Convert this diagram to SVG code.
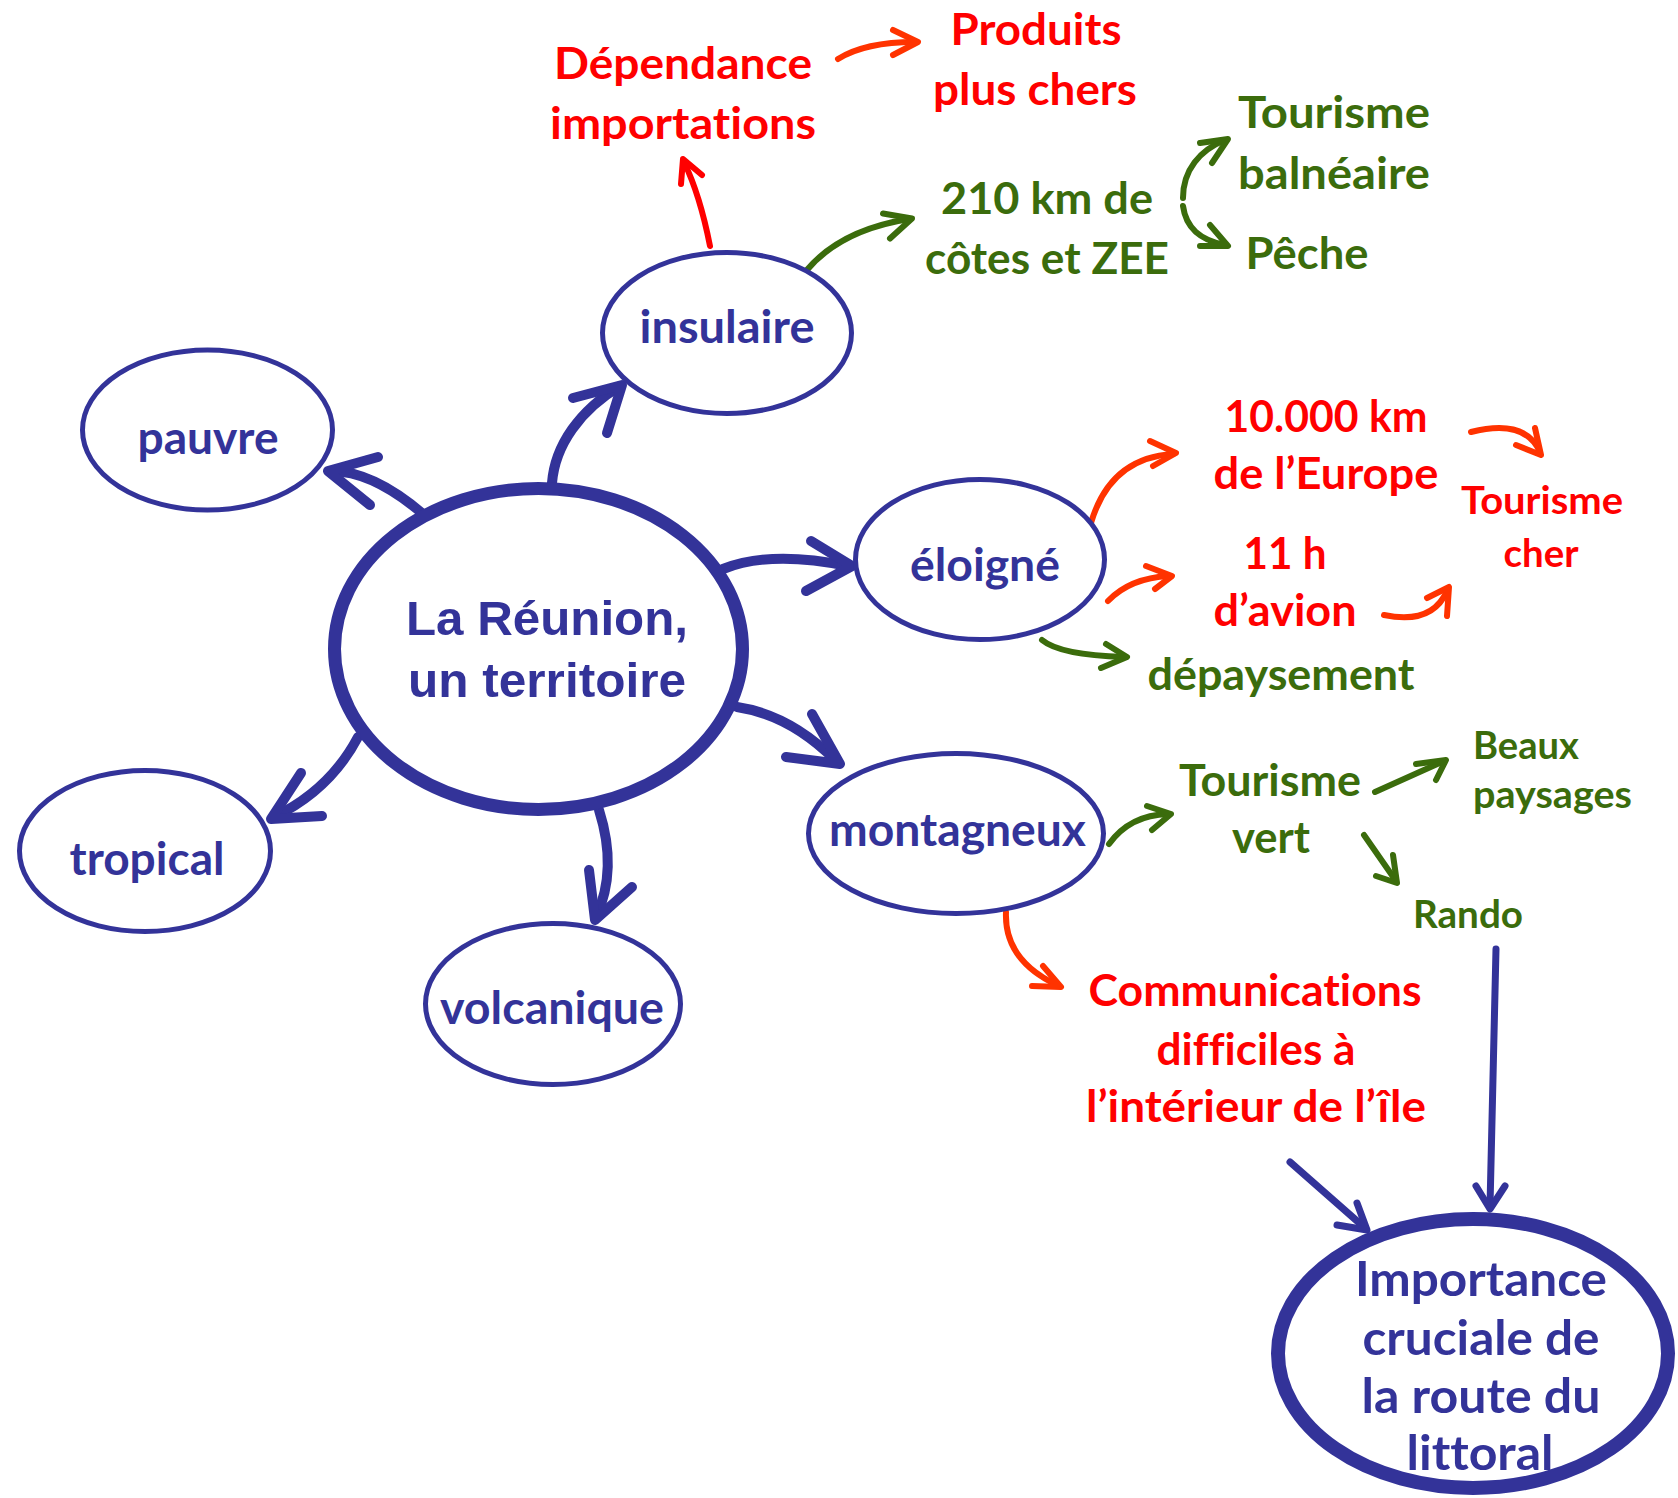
<svg xmlns="http://www.w3.org/2000/svg" width="1678" height="1498" viewBox="0 0 1678 1498">
<style>
.bg{fill:#ffffff}
.node{fill:#ffffff;stroke:#333399;stroke-width:5}
.t{font-family:Lato,"Open Sans","Liberation Sans",sans-serif;font-weight:700;text-anchor:middle;font-variant-ligatures:none;font-feature-settings:"liga" 0,"clig" 0}
.tl{text-anchor:start}
.ts{font-size:39px}
.tm{font-size:44px}
.tn{font-size:46px}
.tb{font-size:48px}
.tc{font-family:"Liberation Sans",Arial,sans-serif;font-weight:700;font-size:49px;text-anchor:middle;fill:#333399}
.blue{fill:#333399}
.red{fill:#ff0000}
.green{fill:#3b6c0c}
.c{fill:none;stroke-linecap:round;stroke-linejoin:round}
.cb{stroke:#333399;stroke-width:10}
.cb2{stroke:#333399;stroke-width:7}
.cg{stroke:#3b6c0c;stroke-width:6}
.cr{stroke:#ff0000;stroke-width:6}
.co{stroke:#ff3300;stroke-width:6}
</style>
<rect class="bg" x="0" y="0" width="1678" height="1498"/>

<g id="connectors">
  <!-- central to nodes -->
  <path class="c cb" d="M 423 514 Q 373.5 471.5 332 471"/>
  <polyline class="c cb" points="378,457 328,471 370,505"/>
  <path class="c cb" d="M 552 483 C 555 445 580 410 620 386"/>
  <polyline class="c cb" points="573,398 622,385 607,433"/>
  <path class="c cb" d="M 723 569 Q 770 550 848 566"/>
  <polyline class="c cb" points="811,541 852,566 806,591"/>
  <path class="c cb" d="M 737 707 Q 790 715 835 760"/>
  <polyline class="c cb" points="812,714 840,764 786,757"/>
  <path class="c cb" d="M 358 737 Q 330 790 274 817"/>
  <polyline class="c cb" points="301,773 271,819 322,816"/>
  <path class="c cb" d="M 599 810 Q 618 870 596 917"/>
  <polyline class="c cb" points="589,870 595,920 632,887"/>
  <!-- to Importance -->
  <path class="c cb2" d="M 1290 1162 L 1365 1228"/>
  <polyline class="c cb2" points="1357,1203 1367,1230 1337,1225"/>
  <path class="c cb2" d="M 1496 949 L 1490 1206"/>
  <polyline class="c cb2" points="1476,1186 1490,1209 1505,1186"/>
  <!-- green -->
  <path class="c cg" d="M 806 271 Q 840 230 909 219"/>
  <polyline class="c cg" points="883,213.5 912,218.5 890,238.5"/>
  <path class="c cg" d="M 1183 198 C 1183 170 1200 150 1225 140"/>
  <polyline class="c cg" points="1200,143 1228,139 1212,163"/>
  <path class="c cg" d="M 1183 206 C 1186 228 1200 240 1225 245"/>
  <polyline class="c cg" points="1210,225 1228,246 1200,246"/>
  <path class="c cg" d="M 1042 640 Q 1060 655 1124 657"/>
  <polyline class="c cg" points="1106,644 1127,657 1101,668"/>
  <path class="c cg" d="M 1109 844 Q 1130 815 1168 814"/>
  <polyline class="c cg" points="1147,806 1171,814 1152,830"/>
  <path class="c cg" d="M 1375 792 L 1444 761"/>
  <polyline class="c cg" points="1416,764 1446,760 1436,780"/>
  <path class="c cg" d="M 1364 835 L 1396 881"/>
  <polyline class="c cg" points="1393,855 1397,883 1376,876"/>
  <!-- red / orange -->
  <path class="c cr" d="M 710 246 Q 700 195 684 162"/>
  <polyline class="c cr" points="681,184 683,159 702,175"/>
  <path class="c co" d="M 838 59 Q 865 42 915 42"/>
  <polyline class="c co" points="893,30 918,42 893,55"/>
  <path class="c co" d="M 1091 523 Q 1110 458 1173 454"/>
  <polyline class="c co" points="1150,441 1176,453 1153,466"/>
  <path class="c co" d="M 1471 432 Q 1525 418 1540 452"/>
  <polyline class="c co" points="1535,428 1541,455 1516,445"/>
  <path class="c co" d="M 1108 601 Q 1130 578 1169 576"/>
  <polyline class="c co" points="1146,566 1172,576 1155,589"/>
  <path class="c co" d="M 1384 615 Q 1432 625 1447 591"/>
  <polyline class="c co" points="1427,598 1449,587 1447,616"/>
  <path class="c co" d="M 1006 912 Q 1004 960 1057 985"/>
  <polyline class="c co" points="1043,966 1061,987 1032,986"/>
</g>

<g id="central">
  <ellipse cx="538.5" cy="649" rx="204" ry="160.5" fill="#ffffff" stroke="#333399" stroke-width="13"/>
  <text class="tc" x="547" y="635" textLength="282" lengthAdjust="spacingAndGlyphs">La Réunion,</text>
  <text class="tc" x="547" y="697" textLength="278" lengthAdjust="spacingAndGlyphs">un territoire</text>
</g>

<g id="pauvre">
  <ellipse class="node" cx="207.5" cy="430" rx="125" ry="80"/>
  <text class="t tn blue" x="208" y="453.5" textLength="141" lengthAdjust="spacingAndGlyphs">pauvre</text>
</g>
<g id="insulaire">
  <ellipse class="node" cx="727" cy="333" rx="124.5" ry="80.5"/>
  <text class="t tn blue" x="727" y="343" textLength="175" lengthAdjust="spacingAndGlyphs">insulaire</text>
</g>
<g id="eloigne">
  <ellipse class="node" cx="980" cy="559.5" rx="124.5" ry="80"/>
  <text class="t tn blue" x="985" y="580.7" textLength="150" lengthAdjust="spacingAndGlyphs">éloigné</text>
</g>
<g id="montagneux">
  <ellipse class="node" cx="956" cy="833.5" rx="147.5" ry="80"/>
  <text class="t tn blue" x="957.5" y="846" textLength="257" lengthAdjust="spacingAndGlyphs">montagneux</text>
</g>
<g id="tropical">
  <ellipse class="node" cx="145" cy="851" rx="125.5" ry="80.5"/>
  <text class="t tn blue" x="147" y="874.6" textLength="155" lengthAdjust="spacingAndGlyphs">tropical</text>
</g>
<g id="volcanique">
  <ellipse class="node" cx="553" cy="1004" rx="127.5" ry="80.5"/>
  <text class="t tn blue" x="552" y="1023.7" textLength="224" lengthAdjust="spacingAndGlyphs">volcanique</text>
</g>
<g id="importance">
  <ellipse cx="1473" cy="1353.5" rx="195" ry="134.5" fill="#ffffff" stroke="#333399" stroke-width="14"/>
  <text class="t tb blue" x="1481" y="1296" textLength="252" lengthAdjust="spacingAndGlyphs">Importance</text>
  <text class="t tb blue" x="1481" y="1354.6" textLength="237" lengthAdjust="spacingAndGlyphs">cruciale de</text>
  <text class="t tb blue" x="1481" y="1413" textLength="239" lengthAdjust="spacingAndGlyphs">la route du</text>
  <text class="t tb blue" x="1480" y="1470" textLength="147" lengthAdjust="spacingAndGlyphs">littoral</text>
</g>

<g id="dependance">
  <text class="t tm red" x="683" y="79" textLength="258" lengthAdjust="spacingAndGlyphs">Dépendance</text>
  <text class="t tm red" x="683" y="139" textLength="266" lengthAdjust="spacingAndGlyphs">importations</text>
</g>
<g id="produits">
  <text class="t tm red" x="1036" y="45" textLength="171" lengthAdjust="spacingAndGlyphs">Produits</text>
  <text class="t tm red" x="1035" y="105" textLength="204" lengthAdjust="spacingAndGlyphs">plus chers</text>
</g>
<g id="cotes">
  <text class="t tm green" x="1047" y="213.5" textLength="212" lengthAdjust="spacingAndGlyphs">210 km de</text>
  <text class="t tm green" x="1047" y="274" textLength="244" lengthAdjust="spacingAndGlyphs">côtes et ZEE</text>
</g>
<g id="balneaire">
  <text class="t tm green" x="1334" y="128" textLength="192" lengthAdjust="spacingAndGlyphs">Tourisme</text>
  <text class="t tm green" x="1334" y="188.5" textLength="192" lengthAdjust="spacingAndGlyphs">balnéaire</text>
</g>
<g id="peche">
  <text class="t tm green" x="1307" y="268.5" textLength="123" lengthAdjust="spacingAndGlyphs">Pêche</text>
</g>
<g id="europe">
  <text class="t tm red" x="1326" y="432" textLength="203" lengthAdjust="spacingAndGlyphs">10.000 km</text>
  <text class="t tm red" x="1326" y="489" textLength="225" lengthAdjust="spacingAndGlyphs">de l’Europe</text>
</g>
<g id="tourisme-cher">
  <text class="t ts red" x="1542" y="514" textLength="162" lengthAdjust="spacingAndGlyphs">Tourisme</text>
  <text class="t ts red" x="1541" y="567" textLength="75" lengthAdjust="spacingAndGlyphs">cher</text>
</g>
<g id="avion">
  <text class="t tm red" x="1285" y="568.6" textLength="83" lengthAdjust="spacingAndGlyphs">11 h</text>
  <text class="t tm red" x="1285" y="626" textLength="143" lengthAdjust="spacingAndGlyphs">d’avion</text>
</g>
<g id="depaysement">
  <text class="t tm green" x="1281" y="690" textLength="267" lengthAdjust="spacingAndGlyphs">dépaysement</text>
</g>
<g id="tourisme-vert">
  <text class="t tm green" x="1270" y="796" textLength="182" lengthAdjust="spacingAndGlyphs">Tourisme</text>
  <text class="t tm green" x="1271" y="853" textLength="78" lengthAdjust="spacingAndGlyphs">vert</text>
</g>
<g id="paysages">
  <text class="t tl ts green" x="1473" y="758.6" textLength="106" lengthAdjust="spacingAndGlyphs">Beaux</text>
  <text class="t tl ts green" x="1473" y="808" textLength="159" lengthAdjust="spacingAndGlyphs">paysages</text>
</g>
<g id="rando">
  <text class="t ts green" x="1468" y="928" textLength="110" lengthAdjust="spacingAndGlyphs">Rando</text>
</g>
<g id="communications">
  <text class="t tm red" x="1255" y="1006" textLength="333" lengthAdjust="spacingAndGlyphs">Communications</text>
  <text class="t tm red" x="1256" y="1064.6" textLength="199" lengthAdjust="spacingAndGlyphs">difficiles à</text>
  <text class="t tm red" x="1256" y="1121.5" textLength="340" lengthAdjust="spacingAndGlyphs">l’intérieur de l’île</text>
</g>
</svg>
